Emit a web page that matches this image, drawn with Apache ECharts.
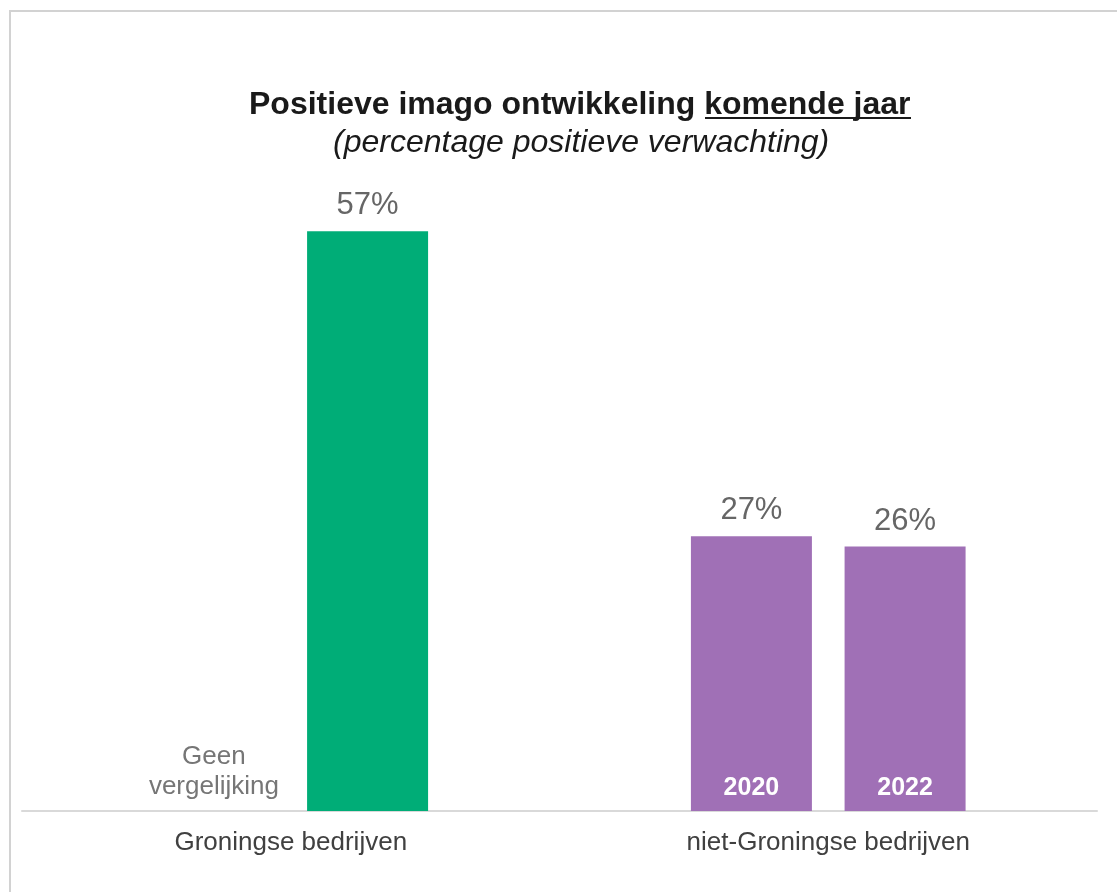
<!DOCTYPE html>
<html>
<head>
<meta charset="utf-8">
<script src="https://cdn.jsdelivr.net/npm/echarts@6/dist/echarts.min.js"></script>
<style>
  html, body { margin: 0; padding: 0; background: #fff; }
  #frame {
    position: absolute; left: 9px; top: 10px;
    width: 1130px; height: 900px;
    border: 2px solid #d2d2d2; box-sizing: border-box;
  }
  #chart { position: absolute; left: 0; top: 0; width: 1117px; height: 892px; }
</style>
</head>
<body>
<div id="frame"></div>
<div id="chart"></div>
<script>
// Chart data
const categories = ['Groningse bedrijven', 'niet-Groningse bedrijven'];
const values2020 = ['-', 27];
const values2022 = [57, 26];
const yearLabels2020 = ['Geen\nvergelijking', '2020'];
const yearLabels2022 = ['', '2022'];
const barColors2020 = ['#a070b6', '#a070b6'];
const barColors2022 = ['#00ad77', '#a070b6'];

const FONT = "'Liberation Sans', Arial, sans-serif";

// zero-height helper series that carries the year text at the foot of each bar
function yearSeries(stack, labels) {
  return {
    type: 'bar',
    stack: stack,
    barWidth: 121,
    barGap: '27%',
    z: 3,
    silent: true,
    itemStyle: { color: 'transparent' },
    data: labels.map((txt, i) => {
      if (!txt) return { value: 0, label: { show: false } };
      if (i === 0) {
        return {
          value: 0,
          label: {
            show: true, position: 'top', distance: 9,
            formatter: txt, color: '#767676', fontWeight: 'normal',
            fontSize: 26, lineHeight: 30, fontFamily: FONT
          }
        };
      }
      return {
        value: 0,
        label: {
          show: true, position: 'top', distance: 10,
          formatter: txt, color: '#ffffff', fontWeight: 'bold',
          fontSize: 25, fontFamily: FONT
        }
      };
    })
  };
}

function valueSeries(stack, values, colors) {
  return {
    type: 'bar',
    stack: stack,
    barWidth: 121,
    barGap: '27%',
    z: 2,
    data: values.map((v, i) => ({ value: v, itemStyle: { color: colors[i] } })),
    label: {
      show: true,
      position: 'top',
      distance: 10,
      formatter: p => p.value + '%',
      color: '#666666',
      fontSize: 31,
      fontFamily: FONT
    }
  };
}

const chart = echarts.init(document.getElementById('chart'));

chart.setOption({
  animation: false,
  title: [
    {
      text: 'Positieve imago ontwikkeling komende jaar',
      left: 249,
      top: 89,
      padding: 0,
      textStyle: { fontFamily: FONT, fontSize: 32, fontWeight: 'bold', color: '#1a1a1a' }
    },
    {
      text: '(percentage positieve verwachting)',
      left: 333,
      top: 127,
      padding: 0,
      textStyle: { fontFamily: FONT, fontSize: 32, fontStyle: 'italic', fontWeight: 'normal', color: '#1a1a1a' }
    }
  ],
  graphic: [
    {
      // underline for "komende jaar"
      type: 'line',
      shape: { x1: 705, y1: 118, x2: 911, y2: 118 },
      style: { stroke: '#1a1a1a', lineWidth: 2 }
    }
  ],
  grid: { left: 22, right: 20, top: 99, bottom: 81 },
  xAxis: {
    type: 'category',
    data: categories,
    axisTick: { show: false },
    axisLine: { lineStyle: { color: '#d9d9d9', width: 2 } },
    axisLabel: { color: '#404040', fontSize: 26, margin: 19, fontFamily: FONT }
  },
  yAxis: {
    type: 'value',
    min: 0,
    max: 70,
    show: false
  },
  series: [
    yearSeries('a', yearLabels2020),
    valueSeries('a', values2020, barColors2020),
    yearSeries('b', yearLabels2022),
    valueSeries('b', values2022, barColors2022)
  ]
});

window.addEventListener('resize', () => chart.resize());
</script>
</body>
</html>
